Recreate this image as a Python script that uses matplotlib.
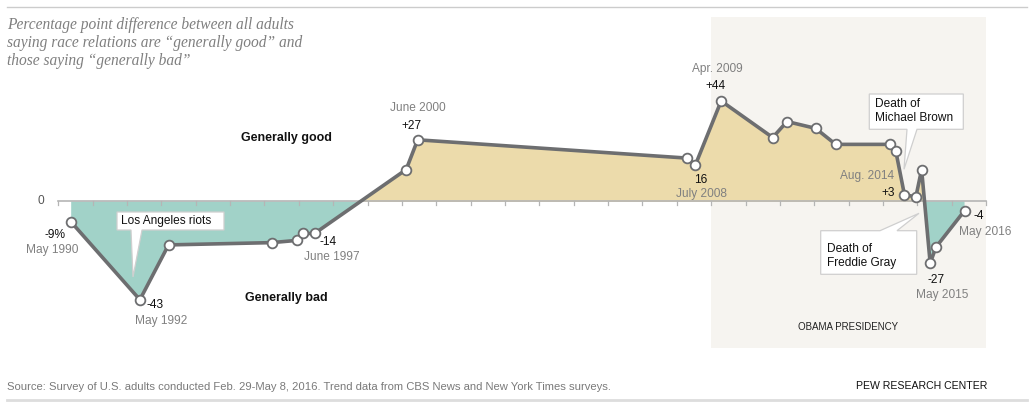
import numpy as np
import pandas as pd
import matplotlib
matplotlib.use("Agg")
import matplotlib.pyplot as plt
from matplotlib.transforms import Affine2D
from matplotlib.patches import Polygon

# survey dates and net "good minus bad" values
dates = ["1990-05", "1992-05", "1993-03", "1996-03", "1996-12", "1997-02", "1997-06",
         "2000-02", "2000-06", "2008-04", "2008-07", "2009-04", "2010-10", "2011-03",
         "2012-01", "2012-08", "2014-03", "2014-05", "2014-08", "2014-12", "2015-02",
         "2015-05", "2015-07", "2016-05"]
diff = [-9, -43, -19, -18, -17, -14, -14, 14, 27, 19, 16, 44, 28, 35, 32, 25, 25, 22,
        3, 2, 14, -27, -20, -4]

# which points get a value / date label
label_idx = [0, 1, 6, 8, 10, 11, 18, 21, 23]
value_labels = ["-9%", "-43", "-14", "+27", "16", "+44", "+3", "-27", "-4"]
date_labels = ["May 1990", "May 1992", "June 1997", "June 2000", "July 2008",
               "Apr. 2009", "Aug. 2014", "May 2015", "May 2016"]

obama = (2009, 2017)
year_ticks = list(range(1990, 2018))

title = ["Percentage point difference between all adults",
         "saying race relations are \u201cgenerally good\u201d and",
         "those saying \u201cgenerally bad\u201d"]
source = ("Source: Survey of U.S. adults conducted Feb. 29-May 8, 2016. "
          "Trend data from CBS News and New York Times surveys.")

d = pd.to_datetime(dates, format="%Y-%m")
x = d.year + (d.month - 0.5) / 12.0
y = np.array(diff)

W, H = 1035, 407
fig = plt.figure(figsize=(W / 100, H / 100), dpi=100)
ax = fig.add_axes([0, 0, 1, 1])
ax.axis("off")
# x: 1990 at px 58.3, 34.36 px/yr ; y: 0 at px 201.5, 2.285 px/pt
ax.set_xlim(1990 - 58.3 / 34.36, 1990 + (W - 58.3) / 34.36)
ax.set_ylim(-(H - 201.5) / 2.285, 201.5 / 2.285)

# pixel coords (origin top-left) for annotations
px = Affine2D().scale(1 / W, -1 / H).translate(0, 1) + fig.transFigure

sans = ["Liberation Sans", "DejaVu Sans"]
gray_txt = "#808080"
line_c = "#6d6e70"

# obama presidency shading
ax.axvspan(obama[0], obama[1], ymin=1 - 348 / H, ymax=1 - 17.3 / H,
           color="#f6f4f0", lw=0, zorder=0)
ax.text(847.7, 327.3, "OBAMA PRESIDENCY", transform=px, ha="center", va="center",
        fontsize=7, family=sans, color="#222222")

# filled areas
ax.fill_between(x, y, 0, where=y >= 0, interpolate=True, color="#ecdbab", lw=0, zorder=1)
ax.fill_between(x, y, 0, where=y <= 0, interpolate=True, color="#a1d2c8", lw=0, zorder=1)

# zero axis with yearly ticks
ax.plot([1990, 2017], [0, 0], color="#b5b5b5", lw=1.2, zorder=2)
for t in year_ticks:
    ax.plot([t, t], [0, -1.6], color="#b5b5b5", lw=0.9, zorder=2)
ax.text(41, 201, "0", transform=px, ha="center", va="center", fontsize=8.6,
        family=sans, color="#555555")

# line with open markers
ax.plot(x, y, color=line_c, lw=2.6, zorder=3, solid_joinstyle="round")
ax.plot(x, y, "o", ms=7, mfc="white", mec=line_c, mew=1.3, zorder=4)

# value / date labels (offsets in pixels)
val_off = [(-15.7, -12.7), (14.7, -5.7), (13.3, -8.3), (-5.7, 14.3), (5.7, -14.7),
           (-5.7, 14.7), (-9.3, 1.7), (5.7, -17.3), (14.3, -5.7)]
date_off = [(-19, -27.7), (21.7, -21), (17.3, -23.3), (0.3, 32), (5.7, -29),
            (-4, 31.7), (-10.6, 18.3), (11.7, -31.6), (21, -21.7)]
for k, i in enumerate(label_idx):
    ha = "right" if dates[i] == "2014-08" else "center"
    ax.annotate(value_labels[k], (x[i], y[i]), xytext=val_off[k], textcoords="offset pixels",
                ha=ha, va="center", fontsize=8.6, family=sans, color="#111111", zorder=6)
    ax.annotate(date_labels[k], (x[i], y[i]), xytext=date_off[k], textcoords="offset pixels",
                ha=ha, va="center", fontsize=8.6, family=sans, color=gray_txt, zorder=6)

ax.text(286.7, 137.7, "Generally good", transform=px, ha="center", va="center",
        fontsize=9, fontweight="bold", family=sans, color="#111111")
ax.text(286.7, 297.7, "Generally bad", transform=px, ha="center", va="center",
        fontsize=9, fontweight="bold", family=sans, color="#111111")

# callouts
callouts = [
    ([(117, 212), (224, 212), (224, 230), (142, 230), (133, 277), (131, 230), (117, 230)],
     (121, 221), "Los Angeles riots"),
    ([(869.3, 94), (963.3, 94), (963.3, 129.3), (917, 129.3), (904, 169.3), (907, 129.3),
      (869.3, 129.3)], (874.7, 111.3), "Death of\nMichael Brown"),
    ([(820.7, 230.7), (880, 230.7), (919, 213.3), (897, 230.7), (916.7, 230.7),
      (916.7, 274.3), (820.7, 274.3)], (827.3, 256), "Death of\nFreddie Gray"),
]
for verts, tpos, txt in callouts:
    ax.add_patch(Polygon(verts, closed=True, transform=px, facecolor="white",
                         edgecolor="#cfcfcf", lw=0.9, zorder=5))
    ax.text(tpos[0], tpos[1], txt, transform=px, ha="left", va="center", fontsize=8.6,
            family=sans, color="#111111", linespacing=1.25, zorder=6)

# title
for k, line in enumerate(title):
    ax.text(7.3, 25 + 18.2 * k, line, transform=px, ha="left", va="center",
            fontsize=11.2, style="italic", family=["Liberation Serif", "DejaVu Serif"],
            color="#7f7f7f")

# rules and footer
ax.plot([7, 1027], [7.3, 7.3], transform=px, color="#cccccc", lw=1.0, clip_on=False)
ax.plot([7, 1027], [399.8, 399.8], transform=px, color="#dddddd", lw=2.0, clip_on=False)
ax.text(7, 387, source, transform=px, ha="left", va="center", fontsize=8.1,
        family=sans, color="#7a7a7a")
ax.text(987, 386, "PEW RESEARCH CENTER", transform=px, ha="right", va="center",
        fontsize=7.6, family=sans, color="#111111")

fig.savefig("out.png", dpi=100)
